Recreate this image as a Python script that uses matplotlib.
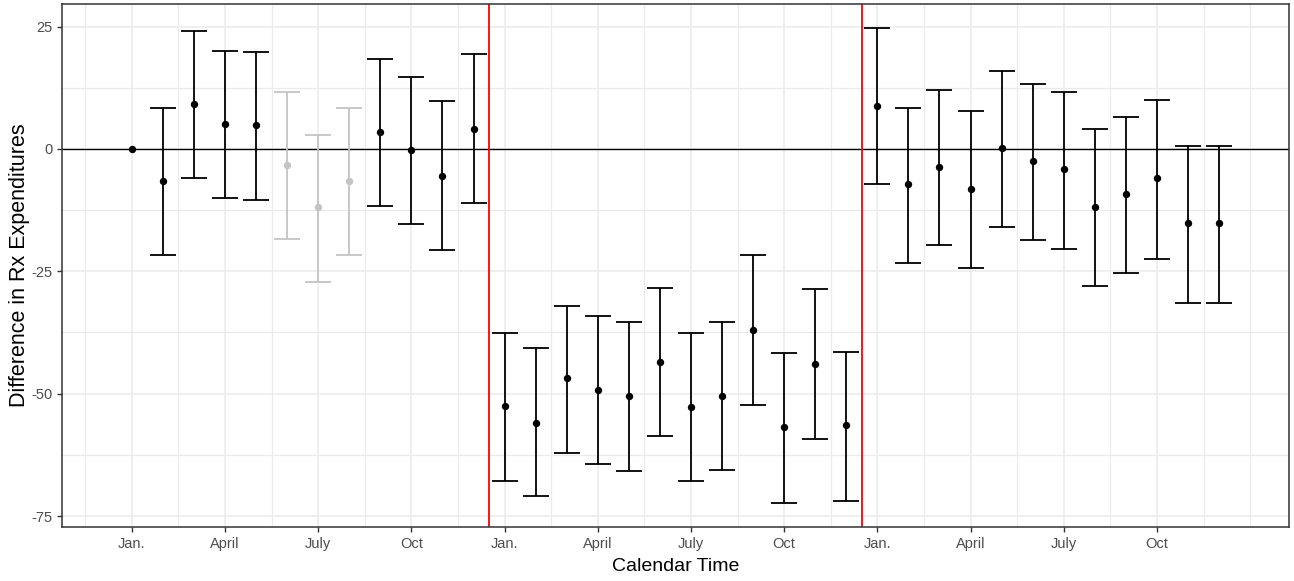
import numpy as np
import matplotlib
matplotlib.use("Agg")
import matplotlib.pyplot as plt

plt.rcParams['font.family'] = ['Liberation Sans', 'DejaVu Sans']
plt.rcParams['axes.unicode_minus'] = False

# month index 1..36 (three calendar years)
month = list(range(1, 37))
est = [0.0, -6.5, 9.2, 5.1, 4.8, -3.2, -11.9, -6.6, 3.5, -0.3, -5.6, 4.1,
       -52.5, -56.0, -46.9, -49.2, -50.5, -43.5, -52.8, -50.5, -36.9, -56.8, -43.9, -56.5,
       8.8, -7.2, -3.8, -8.2, 0.1, -2.5, -4.2, -11.9, -9.2, -5.9, -15.2, -15.2]
lower = [np.nan, -21.7, -6.0, -10.1, -10.4, -18.4, -27.1, -21.7, -11.7, -15.4, -20.7, -11.0,
         -67.8, -71.0, -62.2, -64.3, -65.9, -58.6, -67.9, -65.6, -52.3, -72.3, -59.3, -71.9,
         -7.1, -23.4, -19.7, -24.4, -16.0, -18.7, -20.4, -28.1, -25.4, -22.4, -31.4, -31.4]
upper = [np.nan, 8.35, 24.0, 20.0, 19.7, 11.6, 2.9, 8.35, 18.3, 14.7, 9.7, 19.4,
         -37.7, -40.7, -32.1, -34.1, -35.4, -28.4, -37.7, -35.4, -21.7, -41.7, -28.7, -41.4,
         24.7, 8.3, 12.0, 7.7, 16.0, 13.3, 11.7, 4.0, 6.6, 10.0, 0.6, 0.6]
faded = [False] * 5 + [True] * 3 + [False] * 28

tick_pos = [1, 4, 7, 10, 13, 16, 19, 22, 25, 28, 31, 34]
tick_lab = ["Jan.", "April", "July", "Oct"] * 3
breaks = [12.5, 24.5]

fig = plt.figure(figsize=(12.94, 5.81), dpi=100)
ax = fig.add_axes([0.0479, 0.0929, 0.9482, 0.9002])

grid_col = "#EBEBEB"
for y in [25, 0, -25, -50, -75]:
    ax.axhline(y, color=grid_col, lw=1.1, zorder=0)
for y in [12.5, -12.5, -37.5, -62.5]:
    ax.axhline(y, color=grid_col, lw=0.9, zorder=0)
for x in tick_pos:
    ax.axvline(x, color=grid_col, lw=1.1, zorder=0)
for x in list(np.arange(-0.5, 36, 3)) + [37]:
    ax.axvline(x, color=grid_col, lw=0.9, zorder=0)

ax.axhline(0, color="black", lw=1.0, zorder=1)
for b in breaks:
    ax.axvline(b, color="red", lw=1.3, zorder=1)

for m, e, lo, hi, f in zip(month, est, lower, upper, faded):
    c = "#C4C4C4" if f else "black"
    if not np.isnan(lo):
        ax.errorbar(m, e, yerr=[[e - lo], [hi - e]], fmt="none", ecolor=c,
                    elinewidth=1.3, capsize=9.7, capthick=1.3, zorder=2)
    ax.plot(m, e, "o", color=c, ms=4.3, zorder=3)

ax.set_xlim(-1.25, 38.25)
ax.set_ylim(-77.25, 29.6)
ax.set_xticks(tick_pos)
ax.set_xticklabels(tick_lab)
ax.set_yticks([25, 0, -25, -50, -75])
ax.tick_params(colors="#333333", labelcolor="#4D4D4D", labelsize=10.5, length=3.5, width=1)
for s in ax.spines.values():
    s.set_color("#333333")
    s.set_linewidth(1.1)

ax.set_xlabel("Calendar Time", fontsize=14, labelpad=5)
ax.set_ylabel("Difference in Rx Expenditures", fontsize=15.5, labelpad=1)

fig.savefig("out.png", dpi=100)
